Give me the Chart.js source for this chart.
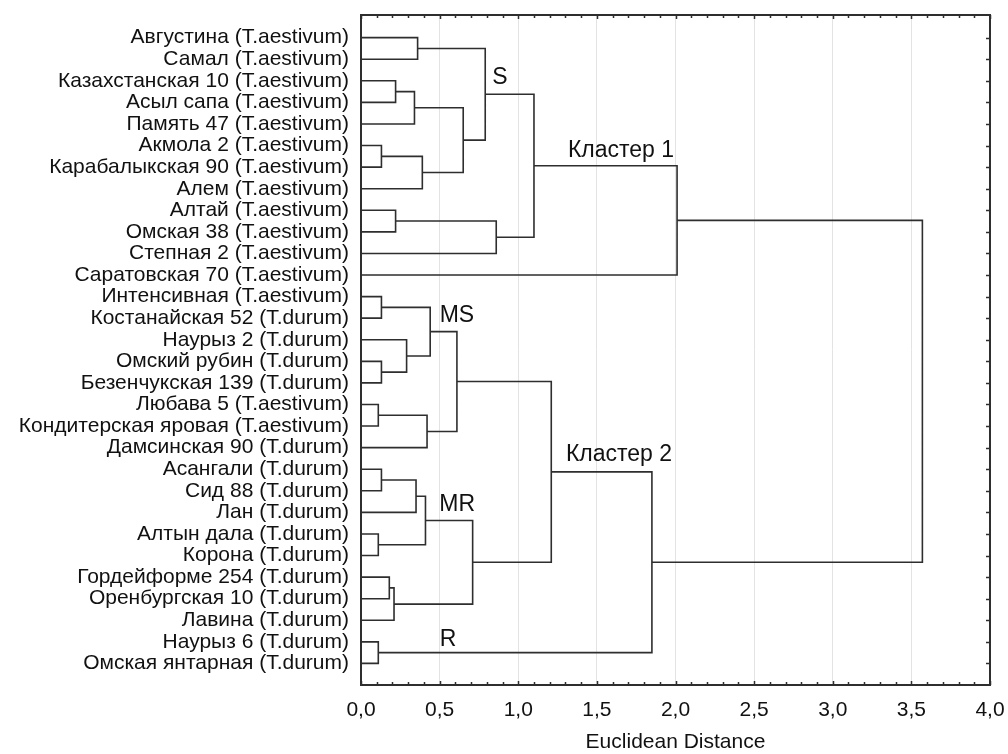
<!DOCTYPE html>
<html>
<head>
<meta charset="utf-8">
<script src="https://cdn.jsdelivr.net/npm/chart.js@4.4.1/dist/chart.umd.min.js"></script>
<style>
  html, body { margin: 0; padding: 0; background: #ffffff; }
  #wrap { width: 1008px; height: 754px; position: relative; }
</style>
</head>
<body>
<div id="wrap"><canvas id="dendro" width="1008" height="754"></canvas></div>
<script>
// Varieties in leaf order (top to bottom)
const leaves = [
  'Августина (T.aestivum)',
  'Самал (T.aestivum)',
  'Казахстанская 10 (T.aestivum)',
  'Асыл сапа (T.aestivum)',
  'Память 47 (T.aestivum)',
  'Акмола 2 (T.aestivum)',
  'Карабалыкская 90 (T.aestivum)',
  'Алем (T.aestivum)',
  'Алтай (T.aestivum)',
  'Омская 38 (T.aestivum)',
  'Степная 2 (T.aestivum)',
  'Саратовская 70 (T.aestivum)',
  'Интенсивная (T.aestivum)',
  'Костанайская 52 (T.durum)',
  'Наурыз 2 (T.durum)',
  'Омский рубин (T.durum)',
  'Безенчукская 139 (T.durum)',
  'Любава 5 (T.aestivum)',
  'Кондитерская яровая (T.aestivum)',
  'Дамсинская 90 (T.durum)',
  'Асангали (T.durum)',
  'Сид 88 (T.durum)',
  'Лан (T.durum)',
  'Алтын дала (T.durum)',
  'Корона (T.durum)',
  'Гордейформе 254 (T.durum)',
  'Оренбургская 10 (T.durum)',
  'Лавина (T.durum)',
  'Наурыз 6 (T.durum)',
  'Омская янтарная (T.durum)'
];

// Linkage: merge k joins nodes mergeLeft[k] and mergeRight[k] at mergeHeight[k];
// leaves are nodes 0..29, merge k becomes node 30 + k.
const mergeLeft   = [0,  2,  31, 5,  33, 32, 30, 8,  37, 36, 39, 12, 15, 14, 41, 17, 45, 44, 20, 48, 23, 49, 25, 52, 51, 47, 28, 55, 40];
const mergeRight  = [1,  3,  4,  6,  7,  34, 35, 9,  10, 38, 11, 13, 16, 42, 43, 18, 19, 46, 21, 22, 24, 50, 26, 27, 53, 54, 29, 56, 57];
const mergeHeight = [0.36, 0.22, 0.34, 0.13, 0.39, 0.65, 0.79, 0.22, 0.86, 1.10, 2.01,
                     0.13, 0.13, 0.29, 0.44, 0.11, 0.42, 0.61,
                     0.13, 0.35, 0.11, 0.41, 0.18, 0.21, 0.71, 1.21, 0.11, 1.85, 3.57];

// Distance axis ticks
const distanceTicks = [0, 0.5, 1, 1.5, 2, 2.5, 3, 3.5, 4];

// Group names placed in (distance, leaf row) coordinates
const groupNames = ['S', 'Кластер 1', 'MS', 'Кластер 2', 'MR', 'R'];
const groupX     = [0.835, 1.316, 0.50, 1.303, 0.498, 0.50];
const groupY     = [2.13, 5.53, 13.17, 19.61, 21.94, 28.21];

const FONT = '"Liberation Sans", Arial, sans-serif';
const INK = '#2e2e2e';

// Build the bracket polyline: each merge is a U-shape, separated by gaps
const nodeX = leaves.map(() => 0);
const nodeY = leaves.map((_, i) => i);
const links = [];
mergeLeft.forEach((a, k) => {
  const b = mergeRight[k], h = mergeHeight[k];
  links.push({x: nodeX[a], y: nodeY[a]}, {x: h, y: nodeY[a]},
             {x: h, y: nodeY[b]}, {x: nodeX[b], y: nodeY[b]}, {x: h, y: null});
  nodeX.push(h);
  nodeY.push((nodeY[a] + nodeY[b]) / 2);
});

// Frame, inward tick marks and group names
const framePlugin = {
  id: 'frame',
  afterDatasetsDraw(chart) {
    const {ctx, chartArea: ca, scales: {x, y}} = chart;
    ctx.save();
    ctx.strokeStyle = INK;
    ctx.lineWidth = 1.5;
    ctx.beginPath();
    // minor/major ticks along bottom and top edges
    for (let i = 0; i <= 40; i++) {
      const px = Math.round(x.getPixelForValue(i / 10)) + 0.5;
      const len = (i % 5 === 0) ? 4 : 3;
      ctx.moveTo(px, ca.bottom); ctx.lineTo(px, ca.bottom - len);
      ctx.moveTo(px, ca.top); ctx.lineTo(px, ca.top + len);
    }
    // ticks along the right edge at each leaf row
    leaves.forEach((_, i) => {
      const py = Math.round(y.getPixelForValue(i)) + 0.5;
      ctx.moveTo(ca.right, py); ctx.lineTo(ca.right - 4, py);
    });
    ctx.stroke();
    // top and right frame lines
    ctx.lineWidth = 2;
    ctx.beginPath();
    ctx.moveTo(ca.left, ca.top); ctx.lineTo(ca.right, ca.top); ctx.lineTo(ca.right, ca.bottom);
    ctx.stroke();
    // group names
    ctx.fillStyle = '#111';
    ctx.font = '23px ' + FONT;
    ctx.textAlign = 'left';
    ctx.textBaseline = 'alphabetic';
    groupNames.forEach((t, i) => {
      ctx.fillText(t, x.getPixelForValue(groupX[i]), y.getPixelForValue(groupY[i]));
    });
    ctx.restore();
  }
};

new Chart(document.getElementById('dendro'), {
  type: 'line',
  data: {
    datasets: [{
      data: links,
      borderColor: INK,
      borderWidth: 1.6,
      pointRadius: 0,
      tension: 0,
      fill: false,
      spanGaps: false
    }]
  },
  options: {
    responsive: false,
    animation: false,
    devicePixelRatio: 1,
    layout: { padding: { top: 15, right: 18, left: 0, bottom: 0 } },
    plugins: { legend: { display: false }, tooltip: { enabled: false } },
    scales: {
      x: {
        type: 'linear', min: 0, max: 4, position: 'bottom',
        afterBuildTicks: s => { s.ticks = distanceTicks.map(v => ({value: v})); },
        afterFit: s => { s.height = 69; s.paddingLeft = 0; s.paddingRight = 0; },
        ticks: {
          autoSkip: false, maxRotation: 0, padding: 13, color: '#111',
          font: { family: FONT, size: 21 },
          callback: v => v.toFixed(1).replace('.', ',')
        },
        grid: { color: '#e3e3e3', lineWidth: 1, drawTicks: false },
        border: { display: true, color: INK, width: 2 },
        title: {
          display: true, text: 'Euclidean Distance', color: '#111',
          font: { family: FONT, size: 21 }, padding: { top: 0, bottom: -1 }
        }
      },
      y: {
        type: 'linear', reverse: true, min: -1.05, max: 30, position: 'left',
        afterBuildTicks: s => { s.ticks = leaves.map((_, i) => ({value: i})); },
        afterFit: s => { s.width = 361; s.paddingTop = 0; s.paddingBottom = 0; },
        ticks: {
          autoSkip: false, padding: 12, color: '#111',
          font: { family: FONT, size: 21 },
          callback: v => leaves[v]
        },
        grid: { display: false, drawTicks: false },
        border: { display: true, color: INK, width: 2 }
      }
    }
  },
  plugins: [framePlugin]
});
</script>
</body>
</html>
